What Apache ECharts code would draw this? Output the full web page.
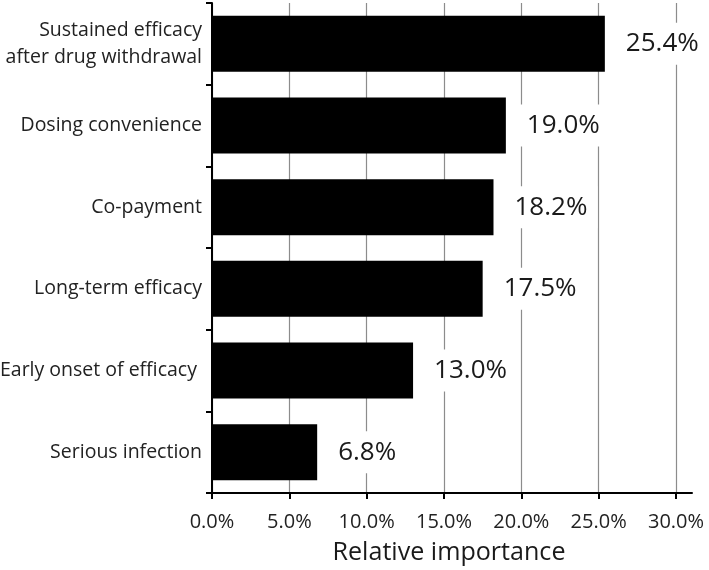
<!DOCTYPE html>
<html>
<head>
<meta charset="utf-8">
<script src="https://cdn.jsdelivr.net/npm/echarts@6/dist/echarts.min.js"></script>
<style>
html,body{margin:0;padding:0;background:#fff;}
#chart{width:709px;height:570px;}
</style>
</head>
<body>
<div id="chart"></div>
<script>
const categories = [
  "Sustained efficacy\nafter drug withdrawal",
  "Dosing convenience",
  "Co-payment",
  "Long-term efficacy",
  "Early onset of efficacy ",
  "Serious infection"
];
const importance = [25.4, 19.0, 18.2, 17.5, 13.0, 6.8];
const xTicks = [0, 5, 10, 15, 20, 25, 30];

const FONT = "'Open Sans', 'Noto Sans', sans-serif";
const chart = echarts.init(document.getElementById('chart'), null, {renderer: 'canvas'});
chart.setOption({
  animation: false,
  backgroundColor: '#ffffff',
  grid: [
    {left: 212, right: 33, top: 3, bottom: 77, containLabel: false, outerBoundsMode: 'none'},
    {left: 212, right: 17, top: 3, bottom: 77, containLabel: false, outerBoundsMode: 'none'}
  ],
  xAxis: [
    {
      type: 'value',
      gridIndex: 0,
      min: xTicks[0],
      max: xTicks[xTicks.length - 1],
      interval: 5,
      name: 'Relative importance',
      nameLocation: 'middle',
      nameGap: 47,
      nameTextStyle: {fontFamily: FONT, fontSize: 25.1, color: '#1a1a1a', padding: [0, 0, 0, 10]},
      axisLine: {show: false},
      axisTick: {show: true, length: 6, lineStyle: {color: '#000', width: 2}},
      axisLabel: {
        margin: 19,
        fontFamily: FONT, fontSize: 20, color: '#222',
        formatter: v => v.toFixed(1) + '%'
      },
      splitLine: {show: true, lineStyle: {color: '#8c8c8c', width: 1.2}}
    },
    {
      type: 'value',
      gridIndex: 1,
      min: 0, max: 1,
      axisLine: {show: true, onZero: false, lineStyle: {color: '#000', width: 2}},
      axisTick: {show: false},
      axisLabel: {show: false},
      splitLine: {show: false}
    }
  ],
  yAxis: [
    {
      type: 'category',
      gridIndex: 0,
      data: categories,
      inverse: true,
      axisLine: {show: true, lineStyle: {color: '#000', width: 2}},
      axisTick: {show: true, length: 6, inside: false, lineStyle: {color: '#000', width: 2}},
      axisLabel: {
        margin: 10,
        fontFamily: FONT, fontSize: 19.5, color: '#222',
        lineHeight: 27
      },
      splitLine: {show: false}
    },
    {
      type: 'value',
      gridIndex: 1,
      show: false
    }
  ],
  series: [
    {
      type: 'bar',
      xAxisIndex: 0,
      yAxisIndex: 0,
      data: importance,
      barCategoryGap: '31.4%',
      itemStyle: {color: '#000'},
      label: {
        show: true,
        position: 'right',
        distance: 11,
        fontFamily: FONT, fontSize: 26, color: '#1a1a1a',
        backgroundColor: '#ffffff',
        padding: [8, 10],
        formatter: p => p.value.toFixed(1) + '%'
      }
    }
  ]
});
</script>
</body>
</html>
